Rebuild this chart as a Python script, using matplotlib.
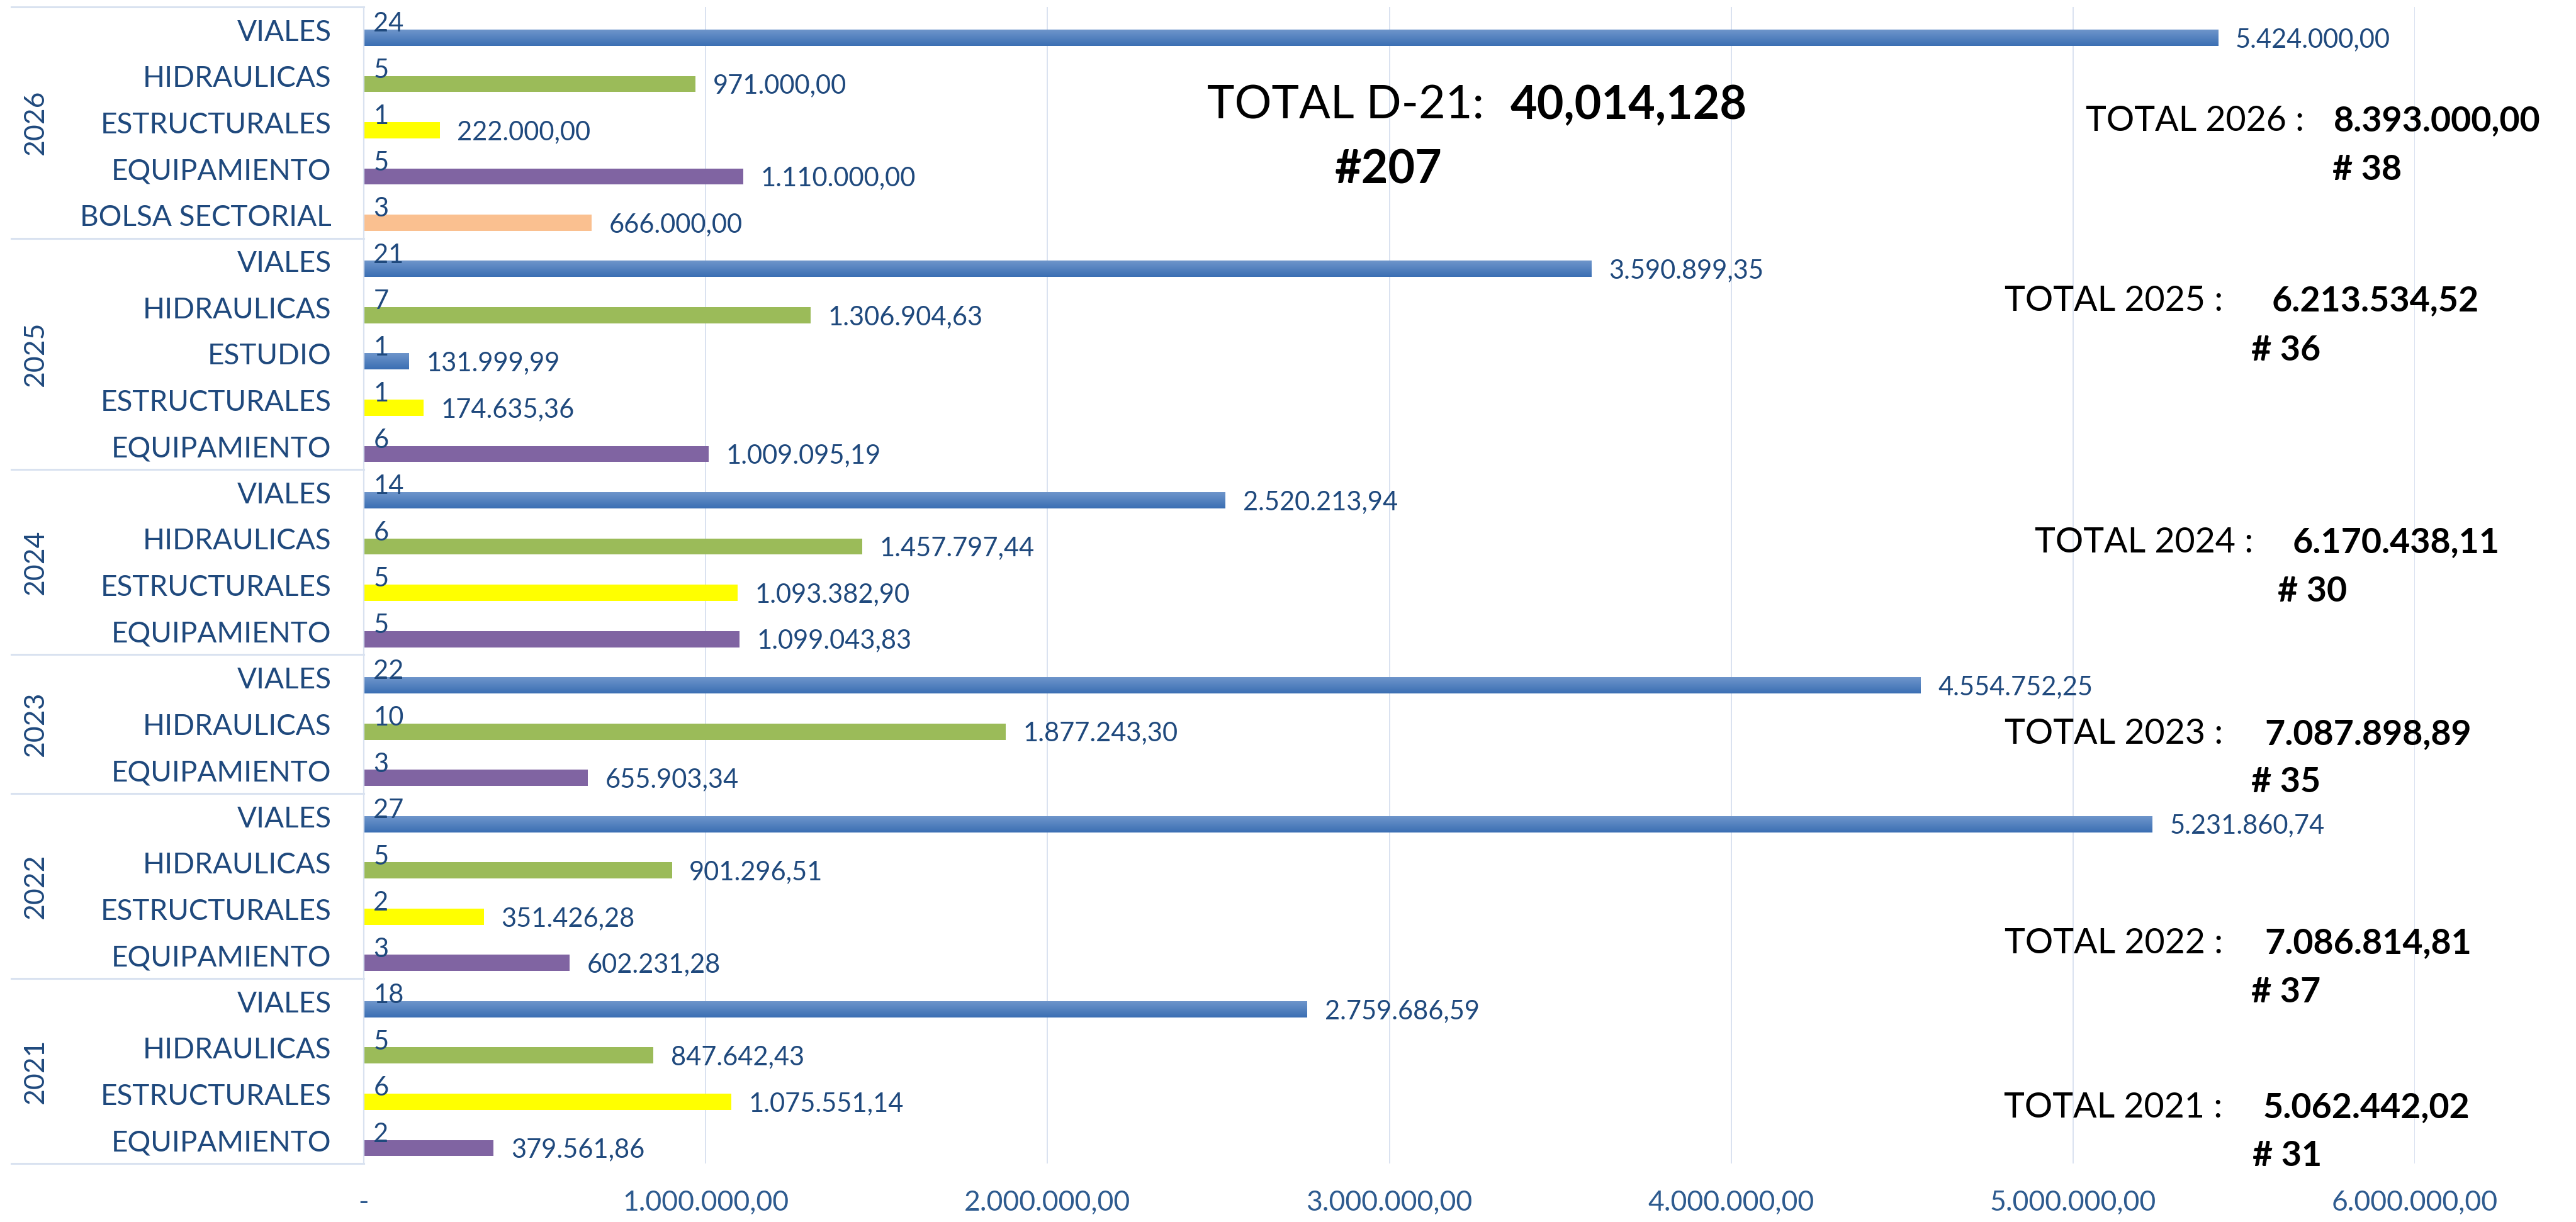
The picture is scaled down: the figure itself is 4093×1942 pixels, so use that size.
"""Horizontal bar chart of investment per year and category (D-21)."""

import matplotlib

matplotlib.use("Agg")
import matplotlib.pyplot as plt
import matplotlib.transforms as mtransforms
import numpy as np
from matplotlib.lines import Line2D

plt.rcParams["font.family"] = ["Lato", "DejaVu Sans"]

years = ["2026", "2025", "2024", "2023", "2022", "2021"]

cats_2026 = ["VIALES", "HIDRAULICAS", "ESTRUCTURALES", "EQUIPAMIENTO", "BOLSA SECTORIAL"]
counts_2026 = [24, 5, 1, 5, 3]
values_2026 = [5424000.00, 971000.00, 222000.00, 1110000.00, 666000.00]

cats_2025 = ["VIALES", "HIDRAULICAS", "ESTUDIO", "ESTRUCTURALES", "EQUIPAMIENTO"]
counts_2025 = [21, 7, 1, 1, 6]
values_2025 = [3590899.35, 1306904.63, 131999.99, 174635.36, 1009095.19]

cats_2024 = ["VIALES", "HIDRAULICAS", "ESTRUCTURALES", "EQUIPAMIENTO"]
counts_2024 = [14, 6, 5, 5]
values_2024 = [2520213.94, 1457797.44, 1093382.90, 1099043.83]

cats_2023 = ["VIALES", "HIDRAULICAS", "EQUIPAMIENTO"]
counts_2023 = [22, 10, 3]
values_2023 = [4554752.25, 1877243.30, 655903.34]

cats_2022 = ["VIALES", "HIDRAULICAS", "ESTRUCTURALES", "EQUIPAMIENTO"]
counts_2022 = [27, 5, 2, 3]
values_2022 = [5231860.74, 901296.51, 351426.28, 602231.28]

cats_2021 = ["VIALES", "HIDRAULICAS", "ESTRUCTURALES", "EQUIPAMIENTO"]
counts_2021 = [18, 5, 6, 2]
values_2021 = [2759686.59, 847642.43, 1075551.14, 379561.86]

x_ticks = [0, 1e6, 2e6, 3e6, 4e6, 5e6, 6e6]

all_cats = [cats_2026, cats_2025, cats_2024, cats_2023, cats_2022, cats_2021]
all_counts = [counts_2026, counts_2025, counts_2024, counts_2023, counts_2022, counts_2021]
all_values = [values_2026, values_2025, values_2024, values_2023, values_2022, values_2021]

colors = {
    "HIDRAULICAS": "#9BBB59",
    "ESTRUCTURALES": "#FFFF00",
    "EQUIPAMIENTO": "#8064A2",
    "BOLSA SECTORIAL": "#FAC090",
}
gradient_cats = {"VIALES", "ESTUDIO"}
grad_top = np.array([0x6E, 0x95, 0xCB]) / 255
grad_bottom = np.array([0x3B, 0x6F, 0xB3]) / 255

text_blue = "#1F497D"
tick_blue = "#2E5B8F"
line_col = "#D9E2F0"

W, H, DPI = 4093, 1942, 100
X0, X6, Y_TOP, Y_BOT = 578, 3837, 11, 1849

# pixel layout of the per-year totals: label right edge, number left, "#" left, y, "#" y
total_layout = [
    (3661, 3708, 3706, 192, 270),
    (3532, 3610, 3577, 478, 557),
    (3580, 3643, 3619, 862, 940),
    (3532, 3598, 3577, 1167, 1243),
    (3532, 3598, 3577, 1499, 1577),
    (3531, 3596, 3579, 1760, 1837),
]


def es_num(v: float) -> str:
    s = f"{v:,.2f}"
    return s.replace(",", "X").replace(".", ",").replace("X", ".")


def fx(x: float) -> float:
    return x / W


def fy(y: float) -> float:
    return 1 - y / H


fig = plt.figure(figsize=(W / DPI, H / DPI), dpi=DPI)
ax = fig.add_axes([fx(X0), fy(Y_BOT), (X6 - X0) / W, (Y_BOT - Y_TOP) / H])

row_labels = []
row = 0
group_bounds = [-0.5]
bar_h = 0.35
bar_off = 0.165
for cats, counts, values in zip(all_cats, all_counts, all_values):
    for cat, n, v in zip(cats, counts, values):
        yc = row + bar_off
        if cat in gradient_cats:
            grad = np.linspace(0, 1, 64)[:, None, None]
            img = grad_top * (1 - grad) + grad_bottom * grad
            ax.imshow(img, extent=(0, v, yc + bar_h / 2, yc - bar_h / 2),
                      origin="upper", aspect="auto", zorder=2)
        else:
            ax.barh(yc, v, height=bar_h, color=colors[cat], zorder=2)
        ax.annotate(str(n), (0, row - 0.13), xytext=(11, 0), textcoords="offset points",
                    ha="left", va="center", fontsize=30, color=text_blue, zorder=3)
        ax.annotate(es_num(v), (v, yc + 0.04), xytext=(20, 0), textcoords="offset points",
                    ha="left", va="center", fontsize=30, color=text_blue, zorder=3)
        row_labels.append(cat)
        row += 1
    group_bounds.append(row - 0.5)

n_rows = row
ax.set_ylim(n_rows - 0.5, -0.5)
ax.set_xlim(0, 6e6)
ax.set_yticks(range(n_rows))
ax.set_yticklabels(row_labels, fontsize=33, color=text_blue)
ax.tick_params(axis="y", length=0, pad=37)
ax.set_xticks(x_ticks)
ax.set_xticklabels(["-"] + [es_num(t) for t in x_ticks[1:]], fontsize=32, color=tick_blue)
ax.tick_params(axis="x", length=0, pad=30)
ax.grid(axis="x", color=line_col, linewidth=1.4, zorder=0)
ax.set_axisbelow(True)
for side in ["top", "right", "bottom"]:
    ax.spines[side].set_visible(False)
ax.spines["left"].set_color(line_col)
ax.spines["left"].set_linewidth(1.6)

# multi-level category axis: group separators and rotated year labels
blend = mtransforms.blended_transform_factory(fig.transFigure, ax.transData)
for b in group_bounds:
    fig.add_artist(Line2D([fx(18), fx(X0)], [b, b], transform=blend,
                          color=line_col, linewidth=2.2))
for year, lo, hi in zip(years, group_bounds[:-1], group_bounds[1:]):
    fig.text(fx(56), (lo + hi) / 2, year, transform=blend, rotation=90,
             ha="center", va="center", fontsize=32, color=text_blue)

# per-year totals
for values, counts, (lab_r, num_l, hash_l, y, hy), year in zip(
        all_values, all_counts, total_layout, years):
    fig.text(fx(lab_r), fy(y), f"TOTAL {year} :", ha="right", va="center",
             fontsize=40, color="black")
    fig.text(fx(num_l), fy(y), es_num(sum(values)), ha="left", va="center",
             fontsize=40, fontweight="bold", color="black")
    fig.text(fx(hash_l), fy(hy), f"# {sum(counts)}", ha="left", va="center",
             fontsize=40, fontweight="bold", color="black")

# grand total
grand_total = sum(sum(v) for v in all_values)
grand_count = sum(sum(c) for c in all_counts)
fig.text(fx(2358), fy(168), "TOTAL D-21:", ha="right", va="center", fontsize=53, color="black")
fig.text(fx(2400), fy(168), f"{int(grand_total):,}", ha="left", va="center",
         fontsize=53, fontweight="bold", color="black")
fig.text(fx(2121), fy(270), f"#{grand_count}", ha="left", va="center",
         fontsize=53, fontweight="bold", color="black")

fig.savefig("out.png", dpi=DPI, facecolor="white")
